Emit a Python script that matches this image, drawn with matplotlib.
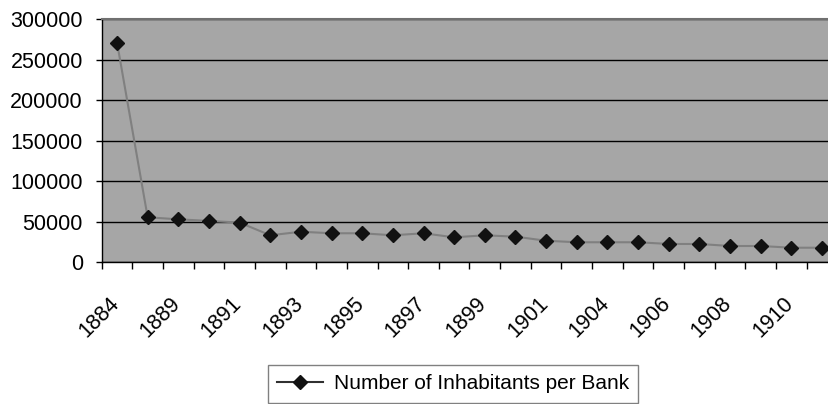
import numpy as np
import matplotlib as mpl
mpl.use('Agg')
import matplotlib.pyplot as plt  # noqa

plt.rcParams['font.family'] = ['Liberation Sans', 'DejaVu Sans']

# categories (only every other one is labelled in the chart)
years = ['1884', '1888', '1889', '1890', '1891', '1892', '1893', '1894',
         '1895', '1896', '1897', '1898', '1899', '1900', '1901', '1902',
         '1904', '1905', '1906', '1907', '1908', '1909', '1910', '1911']
inhabitants = [271000, 55500, 53000, 51000, 49000, 33300, 37700, 35800,
               35800, 33300, 35800, 30800, 33300, 31600, 26600, 24700,
               24700, 24700, 22600, 22600, 20100, 20100, 18000, 18000]
yticks = [0, 50000, 100000, 150000, 200000, 250000, 300000]

W, H = 829, 404
fig = plt.figure(figsize=(W / 100, H / 100), dpi=100)
left, right, top, bottom = 101.7, 837.3, 19, 262.3
ax = fig.add_axes([left / W, 1 - bottom / H, (right - left) / W,
                   (bottom - top) / H])
ax.set_facecolor('#a6a6a6')

n = len(years)
x = np.arange(n) + 0.5
line, = ax.plot(x, inhabitants, color='#808080', lw=1.5, marker='D',
                ms=7, mfc='#111111', mec='#111111', zorder=3,
                label='Number of Inhabitants per Bank')

ax.set_xlim(0, n)
ax.set_ylim(0, 300000)
ax.set_yticks(yticks)
ax.set_yticklabels([str(v) for v in yticks])
ax.yaxis.grid(True, color='black', lw=1)
ax.set_axisbelow(True)

# boundaries get tick marks, labels sit on category centres
ax.set_xticks(np.arange(n + 1))
ax.set_xticklabels([])
ax.set_xticks(x[::2] + 0.2, minor=True)
ax.set_xticklabels(years[::2], minor=True, rotation=45, ha='right',
                   va='top')
ax.tick_params(axis='x', which='major', length=5, width=1, color='black',
               direction='out')
ax.tick_params(axis='x', which='minor', length=0, pad=22, labelsize=15.5)
ax.tick_params(axis='y', length=4.5, width=1, direction='out',
               labelsize=15.5, pad=9)

for s in ('left', 'bottom'):
    ax.spines[s].set_color('black')
    ax.spines[s].set_linewidth(1)
ax.spines['top'].set_color('#707070')
ax.spines['top'].set_linewidth(1.5)
ax.spines['right'].set_visible(False)

leg = fig.legend(handles=[line], loc='upper left',
                 bbox_to_anchor=(268 / W, 1 - 365 / H), fontsize=15,
                 frameon=True, fancybox=False, borderpad=0.45,
                 handlelength=2.2, handletextpad=0.5, borderaxespad=0)
leg.get_frame().set_edgecolor('#606060')
leg.get_frame().set_linewidth(1)
leg.legend_handles[0].set_color('#303030')

fig.savefig('out.png', dpi=100)
